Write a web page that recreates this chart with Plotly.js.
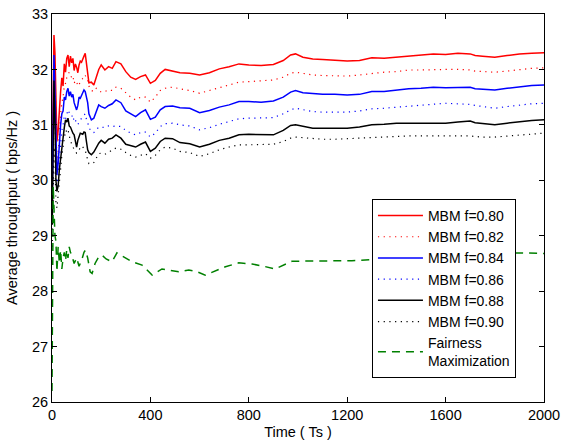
<!DOCTYPE html>
<html>
<head>
<meta charset="utf-8">
<script src="https://cdn.plot.ly/plotly-3.0.1.min.js"></script>
<style>html,body{margin:0;padding:0;background:#fff;}#chart{width:561px;height:445px;}</style>
</head>
<body>
<div id="chart"></div>
<script>
// Time samples for MBM curves
const timeMBM = [1,4,8,12,16,20,25,30,35,40,45,50,55,60,65,70,75,80,85,90,95,100,105,110,115,120,125,130,135,140,145,150,160,170,180,190,200,215,230,245,260,280,300,320,340,360,380,400,420,440,460,490,520,560,600,640,680,720,760,800,850,900,940,970,990,1020,1060,1100,1150,1200,1250,1300,1350,1400,1450,1500,1550,1600,1650,1700,1720,1750,1800,1850,1900,1950,2000];

const mbm080 = [30.2,31.9,32.62,32.3,31.2,30.7,30.9,31.4,31.6,31.85,
31.7,32.1,31.95,32.2,32.26,32.05,32.24,32.12,32.2,31.98,
32.1,32.04,31.94,32.08,32.15,32.13,32.2,32.24,32.29,32.12,
31.88,31.76,31.77,31.72,31.86,32.0,32.08,31.99,32.05,32.02,
32.14,32.1,31.96,31.86,31.82,31.87,31.9,31.75,31.8,31.93,
32.0,31.97,31.94,31.93,31.9,31.94,32.01,32.05,32.1,32.08,
32.07,32.09,32.16,32.26,32.28,32.22,32.19,32.18,32.16,32.15,
32.16,32.21,32.2,32.22,32.24,32.25,32.28,32.27,32.29,32.28,
32.25,32.24,32.22,32.25,32.28,32.29,32.3];

const mbm082 = [29.6,30.8,31.6,31.9,30.7,30.3,30.5,30.9,31.2,31.4,
31.5,31.7,31.75,31.85,31.92,31.95,31.9,31.85,31.88,31.75,
31.8,31.78,31.7,31.72,31.78,31.8,31.84,31.86,31.9,31.82,
31.8,31.7,31.62,31.6,31.66,31.62,31.59,31.6,31.63,31.62,
31.68,31.66,31.58,31.5,31.45,31.5,31.5,31.41,31.5,31.62,
31.66,31.68,31.65,31.62,31.57,31.62,31.68,31.72,31.77,31.78,
31.79,31.81,31.86,31.93,31.95,31.93,31.9,31.89,31.88,31.88,
31.9,31.93,31.95,31.96,31.99,31.99,32.0,32.0,32.0,31.99,
31.97,31.96,31.95,31.97,32.0,32.02,32.03];

const mbm084 = [29.8,31.2,32.26,31.6,30.6,30.1,30.3,30.7,31.0,31.2,
31.25,31.5,31.45,31.6,31.66,31.52,31.6,31.5,31.55,31.4,
31.35,31.27,31.35,31.5,31.48,31.52,31.58,31.63,31.6,31.5,
31.4,31.2,31.09,31.12,31.25,31.36,31.33,31.3,31.35,31.38,
31.45,31.4,31.25,31.2,31.15,31.22,31.27,31.1,31.14,31.27,
31.33,31.34,31.31,31.3,31.22,31.26,31.32,31.36,31.42,31.42,
31.41,31.43,31.5,31.59,31.62,31.58,31.56,31.55,31.55,31.54,
31.55,31.6,31.6,31.63,31.65,31.66,31.68,31.67,31.68,31.68,
31.65,31.64,31.63,31.66,31.69,31.71,31.72];

const mbm086 = [29.4,30.3,31.0,31.2,30.2,29.9,30.1,30.4,30.7,30.9,
31.0,31.15,31.1,31.2,31.27,31.22,31.2,31.15,31.18,31.05,
31.08,31.05,31.0,31.05,31.1,31.12,31.15,31.17,31.2,31.1,
31.05,30.95,30.88,30.86,30.92,30.96,30.96,30.95,30.98,30.97,
30.98,30.97,30.9,30.85,30.82,30.86,30.87,30.78,30.85,30.97,
31.02,31.03,31.0,30.98,30.91,30.95,31.01,31.06,31.11,31.12,
31.12,31.13,31.2,31.27,31.3,31.27,31.24,31.23,31.23,31.23,
31.25,31.29,31.3,31.32,31.34,31.36,31.38,31.39,31.38,31.37,
31.35,31.33,31.3,31.33,31.36,31.38,31.39];

const mbm088 = [29.2,30.6,31.8,31.1,30.0,29.8,29.9,30.2,30.42,30.6,
30.73,30.95,31.09,31.05,31.12,30.98,30.96,30.9,30.85,30.82,
30.7,30.6,30.72,30.8,30.85,30.84,30.83,30.87,30.86,30.7,
30.55,30.5,30.46,30.51,30.6,30.67,30.72,30.67,30.74,30.76,
30.82,30.76,30.65,30.62,30.6,30.65,30.69,30.52,30.58,30.7,
30.76,30.75,30.68,30.66,30.6,30.65,30.72,30.76,30.82,30.83,
30.82,30.82,30.9,30.99,31.0,30.97,30.94,30.94,30.94,30.94,
30.96,31.0,31.01,31.03,31.03,31.03,31.04,31.03,31.05,31.07,
31.04,31.02,31.0,31.03,31.06,31.08,31.09];

const mbm090 = [28.8,29.9,30.6,30.4,29.6,29.5,29.7,30.0,30.2,30.45,
30.6,30.8,30.9,30.88,30.92,30.8,30.7,30.65,30.6,30.55,
30.52,30.49,30.5,30.55,30.6,30.62,30.6,30.58,30.55,30.45,
30.35,30.3,30.3,30.32,30.4,30.48,30.49,30.47,30.5,30.55,
30.58,30.56,30.5,30.45,30.42,30.45,30.48,30.4,30.45,30.55,
30.6,30.58,30.52,30.5,30.43,30.48,30.55,30.6,30.64,30.64,
30.64,30.65,30.7,30.76,30.78,30.77,30.75,30.74,30.74,30.75,
30.77,30.78,30.78,30.79,30.8,30.8,30.8,30.8,30.81,30.8,
30.79,30.78,30.78,30.8,30.82,30.84,30.85];

const timeFair = [0,2,5,8,12,16,20,25,30,35,40,45,50,55,60,65,70,75,80,90,100,110,120,130,136,145,155,163,175,190,203,220,244,264,290,325,366,407,447,480,515,556,590,623,660,705,759,813,860,907,976,1030,1084,1150,1219,1300,1400,1500,1600,1700,1800,1902,2000];
const fairness = [26.2,29.0,29.9,29.5,29.0,28.9,28.35,28.8,28.5,28.74,
28.4,28.6,28.7,28.55,28.75,28.6,28.8,28.7,28.65,28.5,
28.6,28.45,28.55,28.7,28.74,28.6,28.35,28.32,28.5,28.62,
28.65,28.58,28.53,28.69,28.62,28.53,28.47,28.29,28.4,28.37,
28.35,28.38,28.35,28.29,28.36,28.44,28.51,28.49,28.45,28.4,
28.54,28.54,28.54,28.55,28.55,28.57,28.6,28.62,28.64,28.66,
28.68,28.69,28.68];

const seriesNames = ['MBM f=0.80','MBM f=0.82','MBM f=0.84','MBM f=0.86','MBM f=0.88','MBM f=0.90','Fairness<br>Maximization'];
const xTicks = [0,400,800,1200,1600,2000];
const yTicks = [26,27,28,29,30,31,32,33];

const FONT = 'Arial, "Liberation Sans", Helvetica, sans-serif';
function mk(y, name, color, dash, width){
  return {x: timeMBM, y: y, name: name, type:'scatter', mode:'lines',
    line:{color:color, dash:dash, width:width}};
}
const DOT = '1.2px,4.5px';
const traces = [
  mk(mbm080, seriesNames[0], '#ff0000', 'solid', 1.5),
  mk(mbm082, seriesNames[1], '#ff0000', DOT, 1.2),
  mk(mbm084, seriesNames[2], '#0000ff', 'solid', 1.5),
  mk(mbm086, seriesNames[3], '#0000ff', DOT, 1.2),
  mk(mbm088, seriesNames[4], '#000000', 'solid', 1.5),
  mk(mbm090, seriesNames[5], '#000000', DOT, 1.2),
  {x: timeFair, y: fairness, name: seriesNames[6], type:'scatter', mode:'lines',
    line:{color:'#008000', dash:'8px,6px', width:1.5}}
];

const axisCommon = {showline:true, linecolor:'#000', linewidth:1, mirror:'ticks',
  ticks:'inside', ticklen:5, tickcolor:'#000', showgrid:false, zeroline:false,
  tickfont:{family:FONT, size:14.5, color:'#000'}};

const layout = {
  width:561, height:445,
  margin:{l:52, r:17, t:14, b:43},
  paper_bgcolor:'#fff', plot_bgcolor:'#fff',
  font:{family:FONT, color:'#000'},
  showlegend:true,
  xaxis: Object.assign({}, axisCommon, {range:[0,2000], tickvals:xTicks, ticktext:xTicks.map(String),
    title:{text:'Time ( Ts )', font:{family:FONT, size:14.5}, standoff:4}}),
  yaxis: Object.assign({}, axisCommon, {range:[26,33], tickvals:yTicks, ticktext:yTicks.map(String),
    title:{text:'Average throughput ( bps/Hz )', font:{family:FONT, size:14.5}, standoff:10}}),
  legend:{x:0.943, xanchor:'right', y:0.062, yanchor:'bottom',
    bgcolor:'#fff', bordercolor:'#000', borderwidth:1,
    font:{family:FONT, size:14, color:'#000'}, itemwidth:45, tracegroupgap:0}
};

Plotly.newPlot('chart', traces, layout, {staticPlot:true, displayModeBar:false});
</script>
</body>
</html>
